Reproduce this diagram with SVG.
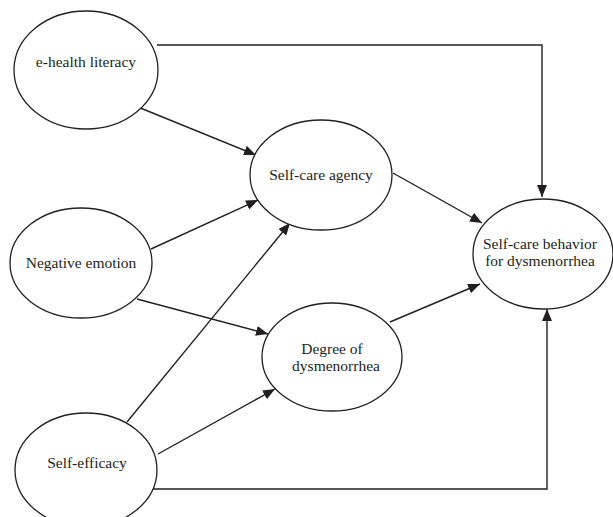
<svg xmlns="http://www.w3.org/2000/svg" width="613" height="517" viewBox="0 0 613 517">
<style>
.n{fill:#fff;stroke:#231f20;stroke-width:1.3}
.t{font-family:"Liberation Serif","Times New Roman",serif;font-size:15.5px;fill:#231f20;text-anchor:middle}
.c{fill:none;stroke:#231f20;stroke-width:1.4}
</style>
<defs>
<marker id="a" markerUnits="userSpaceOnUse" markerWidth="13" markerHeight="11" refX="12" refY="5" orient="auto">
<path d="M0,0 L12,5 L0,10 z" fill="#231f20"/>
</marker>
</defs>
<rect width="613" height="517" fill="#fff"/>
<g id="connectors">
<polyline class="c" points="157,45 542,45 542,197" marker-end="url(#a)"/>
<line class="c" x1="133" y1="105" x2="256" y2="155" marker-end="url(#a)"/>
<line class="c" x1="151" y1="249" x2="258" y2="200" marker-end="url(#a)"/>
<line class="c" x1="127" y1="422" x2="290" y2="223" marker-end="url(#a)"/>
<line class="c" x1="393" y1="173" x2="482" y2="223" marker-end="url(#a)"/>
<line class="c" x1="137" y1="299" x2="268" y2="334" marker-end="url(#a)"/>
<line class="c" x1="158" y1="454" x2="275" y2="389" marker-end="url(#a)"/>
<line class="c" x1="390" y1="322" x2="480" y2="284" marker-end="url(#a)"/>
<polyline class="c" points="152,489 547,489 547,309" marker-end="url(#a)"/>
</g>
<g id="ehealth">
<ellipse class="n" cx="86" cy="70" rx="72" ry="59"/>
<text class="t" x="86" y="67">e-health literacy</text>
</g>
<g id="agency">
<ellipse class="n" cx="321" cy="175" rx="71" ry="55"/>
<text class="t" x="321" y="180">Self-care agency</text>
</g>
<g id="negative">
<ellipse class="n" cx="81" cy="263" rx="71" ry="55"/>
<text class="t" x="81" y="268">Negative emotion</text>
</g>
<g id="behavior">
<ellipse class="n" cx="543" cy="254" rx="70" ry="55"/>
<text class="t" x="540" y="249">Self-care behavior</text>
<text class="t" x="540" y="266">for dysmenorrhea</text>
</g>
<g id="degree">
<ellipse class="n" cx="332" cy="357" rx="70" ry="54"/>
<text class="t" x="332" y="354">Degree of</text>
<text class="t" x="336" y="371">dysmenorrhea</text>
</g>
<g id="efficacy">
<ellipse class="n" cx="86" cy="470" rx="71" ry="57"/>
<text class="t" x="87" y="468">Self-efficacy</text>
</g>
</svg>
